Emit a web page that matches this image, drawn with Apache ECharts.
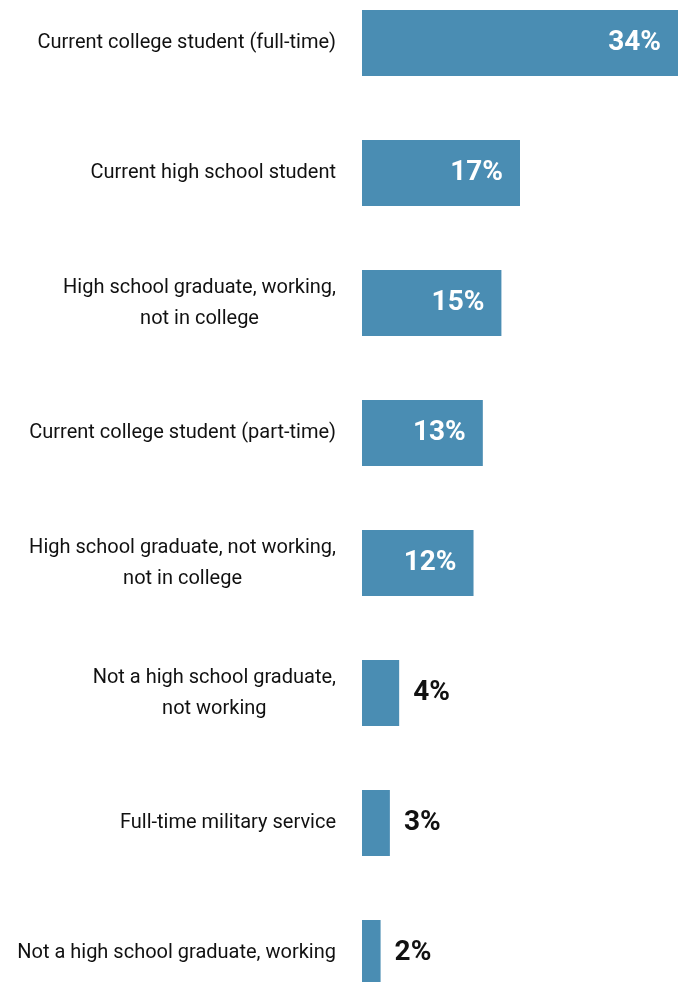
<!DOCTYPE html>
<html>
<head>
<meta charset="utf-8">
<script src="https://cdn.jsdelivr.net/npm/echarts@6/dist/echarts.min.js"></script>
<style>
  html, body { margin: 0; padding: 0; background: #ffffff; overflow: hidden; width: 679px; height: 982px; }
  /* the plot runs past the top and bottom edges of the page */
  #chart { position: absolute; left: 0; top: -22px; width: 679px; height: 1040px; }
</style>
</head>
<body>
<div id="chart"></div>
<script>
// Current status of respondents, share in percent
const categories = [
  'Current college student (full-time)',
  'Current high school student',
  'High school graduate, working,\nnot in college',
  'Current college student (part-time)',
  'High school graduate, not working,\nnot in college',
  'Not a high school graduate,\nnot working',
  'Full-time military service',
  'Not a high school graduate, working'
];
const shares = [34, 17, 15, 13, 12, 4, 3, 2];

const BAR_COLOR = '#4a8db3';
const INSIDE_MIN = 10; // bars at or above this value carry their label inside

const chart = echarts.init(document.getElementById('chart'), null, { renderer: 'canvas' });

chart.setOption({
  animation: false,
  backgroundColor: '#ffffff',
  grid: { left: 362, right: 1, top: 0, bottom: 0, containLabel: false },
  xAxis: {
    type: 'value',
    min: 0,
    max: 34,
    show: false
  },
  yAxis: {
    type: 'category',
    inverse: true,
    data: categories,
    axisLine: { show: false },
    axisTick: { show: false },
    splitLine: { show: false },
    axisLabel: {
      margin: 26,
      align: 'right',
      // each line centred inside a right-aligned block
      formatter: s => s.split('\n').map(line => '{c|' + line + '}').join('\n'),
      rich: {
        c: {
          align: 'center',
          color: '#111111',
          fontFamily: 'Roboto',
          fontSize: 20,
          lineHeight: 31
        }
      }
    }
  },
  series: [{
    type: 'bar',
    barWidth: 66,
    itemStyle: { color: BAR_COLOR },
    data: shares.map(v => ({
      value: v,
      label: v >= INSIDE_MIN
        ? { position: 'insideRight', distance: 17, color: '#ffffff' }
        : { position: 'right', distance: 14, color: '#111111' }
    })),
    label: {
      show: true,
      formatter: p => p.value + '%',
      fontFamily: 'Roboto',
      fontWeight: 'bold',
      fontSize: 28
    }
  }]
});
</script>
</body>
</html>
